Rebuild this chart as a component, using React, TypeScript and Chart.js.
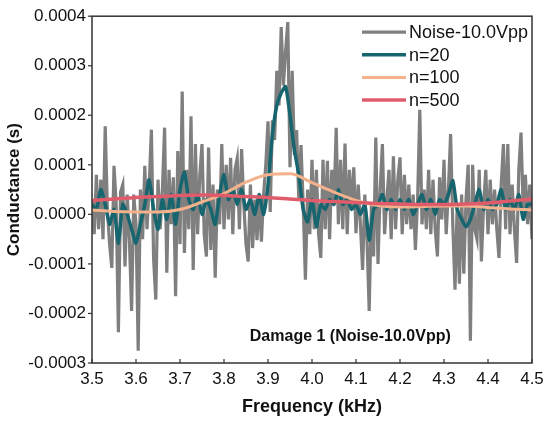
import React, { useEffect, useRef } from "react";
import { Chart, registerables } from "chart.js";

Chart.register(...registerables);

// values in units of 1e-4 S
const UNIT = 1e-4;
const FREQ_START = 3.5;
const NOISE_STEP = 0.005;
const N20_STEP = 0.01;
const SMOOTH_STEP = 0.05;

const seriesLabels = ["Noise-10.0Vpp", "n=20", "n=100", "n=500"];
const seriesColors = ["#7f7f7f", "#17666f", "#f3b18c", "#e05c6b"];
const seriesWidths = [3.2, 3.5, 3, 3.5];

const noise = [
  0.3, -0.4, 0.8, -0.3, 0.7, -0.5, 1.78, 0.1, -0.6, -1.08,
  0.98, 0.2, -2.38, 0.45, 0.6, -1.05, 0.4, -0.5, -1.95, 0.4,
  -0.2, -2.75, 0.5, -0.5, 0.98, -0.3, 0.6, 1.71, -0.9, -1.72,
  0.7, -0.3, 0.5, 1.75, -1.18, 0.9, -0.2, 0.75, -1.65, 1.28,
  -0.6, 2.48, -0.78, 0.9, -0.3, 1.98, -1.12, 1.42, -0.4, 0.8,
  1.42, -0.4, -0.85, 1.35, -0.72, 0.6, -1.28, 0.5, -0.2, 1.42,
  -0.3, 1.0, -0.1, 1.14, -0.4, 0.9, 1.13, -0.3, 1.32, 0.2,
  -0.6, -0.95, 0.6, -0.68, 0.3, -0.52, 0.4, -0.55, 0.4, 1.0,
  1.88, 0.05, 1.9, 1.5, 2.9, 2.2, 3.78, 2.6, 3.3, 3.88,
  0.95, 2.9, 1.2, 1.7, 0.3, 1.4, 0.2, -1.32, 0.5, -0.4,
  1.1, -0.3, 0.9, -0.4, -0.88, 1.1, -0.3, 1.08, -0.5, 0.9,
  0.2, 1.75, -0.2, 1.1, -0.3, 1.43, -0.4, 0.9, 0.1, 0.95,
  -0.38, 0.6, -0.2, -1.12, 0.4, -0.5, -1.95, 0.2, -0.85, 1.55,
  -1.0, 0.5, 1.42, -0.4, 0.3, 0.9, -0.5, 1.17, -0.3, 0.7,
  1.15, -0.4, 0.8, -0.2, 0.6, -0.3, 0.4, -0.72, 0.3, 2.11,
  -0.2, 0.5, -0.3, 0.9, -0.4, 0.7, -0.3, -0.85, 0.75, -0.1,
  1.1, -0.4, 0.5, 1.62, -0.2, -1.52, 0.2, -1.4, 0.4, -1.2,
  0.3, 1.0, -2.55, 1.0, -0.3, -0.5, 0.9, -0.95, 0.2, 0.9,
  -0.4, 0.7, -0.2, 0.5, -0.3, -0.88, 0.6, 1.42, -0.3, 1.42,
  -0.4, 0.6, -0.3, -0.98, 0.9, 1.65, 0.1, 0.8, -0.2, 0.6, -0.5,
];

const n20 = [
  0.2, 0.1, 0.5, 0.2, -0.2, 0.1, -0.58, 0.2, 0.0, -0.3,
  -0.58, -0.2, 0.2, 0.7, 0.1, -0.3, 0.3, -0.1, 0.4, -0.2,
  0.5, 0.85, 0.3, 0.1, 0.4, 0.0, 0.3, 0.1, -0.2, 0.4,
  0.8, 0.3, 0.5, 0.2, 0.5, 0.1, 0.3, 0.0, 0.4, 0.0,
  0.6, 1.6, 2.2, 2.45, 2.58, 2.0, 1.3, 0.8, 0.1, -0.15,
  0.3, -0.25, 0.2, 0.1, 0.3, 0.2, 0.5, 0.2, 0.3, 0.1,
  0.2, 0.0, 0.2, -0.52, 0.1, 0.2, 0.4, 0.1, 0.3, 0.1,
  0.3, 0.1, 0.3, 0.0, 0.2, 0.4, 0.1, 0.3, 0.0, 0.3,
  0.2, 0.4, 0.68, 0.1, -0.1, -0.25, -0.1, 0.2, 0.5, 0.1,
  0.3, 0.1, 0.2, 0.5, 0.1, 0.3, 0.1, 0.4, -0.1, 0.2, 0.2,
];

const n100 = [
  0.09, 0.06, 0.05, 0.05, 0.1, 0.25, 0.42, 0.65, 0.8, 0.82,
  0.64, 0.45, 0.28, 0.18, 0.15, 0.16, 0.17, 0.17, 0.14, 0.11, 0.09,
];

const n500 = [
  0.28, 0.31, 0.34, 0.36, 0.38, 0.39, 0.38, 0.36, 0.34, 0.31,
  0.28, 0.26, 0.24, 0.22, 0.21, 0.2, 0.2, 0.21, 0.23, 0.27, 0.31,
];

const annotationText = "Damage 1 (Noise-10.0Vpp)";

const toPoints = (vals: number[], step: number) =>
  vals.map((v, i) => ({ x: FREQ_START + i * step, y: v * UNIT }));

const FONT = "'Liberation Sans', Arial, sans-serif";

const decorations = {
  id: "decorations",
  afterDatasetsDraw(chart: any) {
    const { ctx, chartArea: a, scales } = chart;
    ctx.save();
    // frame
    ctx.strokeStyle = "#333";
    ctx.lineWidth = 1.5;
    ctx.strokeRect(a.left, a.top, a.right - a.left, a.bottom - a.top);
    // x ticks point inward, y ticks outward
    ctx.lineWidth = 1.2;
    scales.x.ticks.forEach((t: any) => {
      const px = scales.x.getPixelForValue(t.value);
      ctx.beginPath();
      ctx.moveTo(px, a.bottom);
      ctx.lineTo(px, a.bottom - 4);
      ctx.stroke();
    });
    scales.y.ticks.forEach((t: any) => {
      const py = scales.y.getPixelForValue(t.value);
      ctx.beginPath();
      ctx.moveTo(a.left, py);
      ctx.lineTo(a.left - 4, py);
      ctx.stroke();
    });
    // legend
    ctx.font = `18px ${FONT}`;
    ctx.textBaseline = "middle";
    ctx.fillStyle = "#111";
    seriesLabels.forEach((label, i) => {
      const y = a.top + 16 + i * 22.6;
      ctx.strokeStyle = seriesColors[i];
      ctx.lineWidth = seriesWidths[i];
      ctx.beginPath();
      ctx.moveTo(a.right - 170, y);
      ctx.lineTo(a.right - 126, y);
      ctx.stroke();
      ctx.fillText(label, a.right - 123, y + 1);
    });
    // annotation
    ctx.font = `bold 16px ${FONT}`;
    ctx.textAlign = "center";
    ctx.fillText(annotationText, a.left + (a.right - a.left) * 0.587, a.bottom - 26);
    ctx.restore();
  },
};

const App: React.FC = () => {
  const canvasRef = useRef<HTMLCanvasElement | null>(null);
  const chartRef = useRef<Chart | null>(null);

  useEffect(() => {
    document.body.style.margin = "0";
    const ctx = canvasRef.current?.getContext("2d");
    if (!ctx) return;
    if (chartRef.current) chartRef.current.destroy();

    const line = (i: number, data: any[], extra: any = {}) => ({
      label: seriesLabels[i],
      data,
      borderColor: seriesColors[i],
      borderWidth: seriesWidths[i],
      pointRadius: 0,
      fill: false,
      order: 4 - i,
      ...extra,
    });

    chartRef.current = new Chart(ctx, {
      type: "line",
      data: {
        datasets: [
          line(0, toPoints(noise, NOISE_STEP), { tension: 0 }),
          line(1, toPoints(n20, N20_STEP), { tension: 0.2 }),
          line(2, toPoints(n100, SMOOTH_STEP), { cubicInterpolationMode: "monotone" }),
          line(3, toPoints(n500, SMOOTH_STEP), { cubicInterpolationMode: "monotone" }),
        ],
      },
      options: {
        responsive: true,
        maintainAspectRatio: false,
        animation: false,
        layout: { padding: { top: 14, right: 18, left: 0, bottom: 0 } },
        plugins: { legend: { display: false }, tooltip: { enabled: false } },
        scales: {
          x: {
            type: "linear",
            min: 3.5,
            max: 4.5,
            grid: { display: false, drawTicks: false },
            border: { display: false },
            ticks: {
              stepSize: 0.1,
              padding: 6,
              color: "#111",
              font: { family: FONT, size: 17 },
              maxRotation: 0,
              callback: (v: any) => Number(v).toFixed(1),
            },
            title: {
              display: true,
              text: "Frequency (kHz)",
              color: "#111",
              font: { family: FONT, size: 18, weight: "bold" },
              padding: { top: 0, bottom: 4 },
            },
            afterFit: (s: any) => {
              s.height = 59;
            },
          },
          y: {
            min: -0.0003,
            max: 0.0004,
            grid: { display: false, drawTicks: false },
            border: { display: false },
            ticks: {
              stepSize: 0.0001,
              padding: 6,
              color: "#111",
              font: { family: FONT, size: 17 },
              callback: (v: any) => Number(v).toFixed(4),
            },
            title: {
              display: true,
              text: "Conductance (s)",
              color: "#111",
              font: { family: FONT, size: 17, weight: "bold" },
              padding: { top: 4, bottom: 0 },
            },
            afterFit: (s: any) => {
              s.width = 92;
            },
          },
        },
      },
      plugins: [decorations],
    });

    return () => {
      if (chartRef.current) {
        chartRef.current.destroy();
        chartRef.current = null;
      }
    };
  }, []);

  return (
    <div style={{ width: 550, height: 422, position: "relative", background: "#fff" }}>
      <canvas ref={canvasRef}></canvas>
    </div>
  );
};

export default App;
